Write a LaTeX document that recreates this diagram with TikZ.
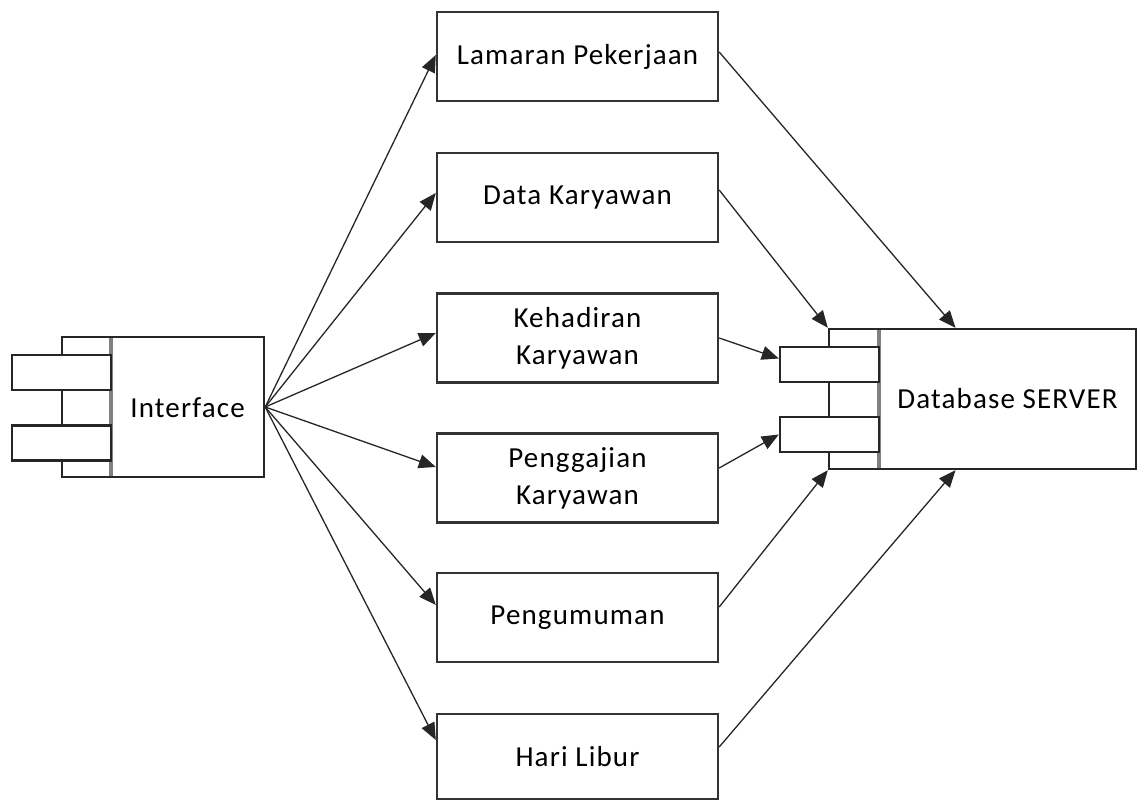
\documentclass[tikz,border=0pt]{standalone}
\usepackage{fontspec}
\setmainfont{Carlito}[LetterSpace=4]
\usetikzlibrary{arrows.meta}
\begin{document}
\begin{tikzpicture}[x=1pt,y=-1pt,
  txt/.style={font=\fontsize{29}{37}\selectfont, align=center, inner sep=0pt},
  box/.style={txt, draw=black!80, line width=2.4pt, fill=white,
    minimum width=281pt, minimum height=89pt},
  body/.style={draw=black!85, line width=2.4pt, fill=white, inner sep=0pt,
    minimum width=#1, minimum height=140pt},
  port/.style={draw=black!85, line width=2.4pt, fill=white, inner sep=0pt,
    minimum width=99pt, minimum height=35pt},
  divider/.style={draw=black!50, line width=3.5pt},
  conn/.style={draw=black!85, line width=1.3pt,
    -{Triangle[length=17pt,width=14pt]}}
]
\useasboundingbox (0,0) rectangle (1138,800);

% Interface component
\node[body=202pt] (iface) at (163,407) {};
\draw[divider] (111,338) -- (111,476);
\node[port] (ifp1) at (61.5,372.5) {};
\node[port] (ifp2) at (61.5,443) {};
\node[txt] (iftext) at (187.5,408) {Interface};

% Database SERVER component
\node[body=307pt] (db) at (982.5,399) {};
\draw[divider] (879,330) -- (879,468);
\node[port] (dbp1) at (829.5,364.5) {};
\node[port] (dbp2) at (829.5,434.5) {};
\node[txt] (dbtext) at (1007.5,399) {Database SERVER};

% Modules
\node[box] (lam) at (577.5,56.5) {Lamaran Pekerjaan};
\node[box] (data) at (577.5,197.5) {Data Karyawan};
\node[box] (keh) at (577.5,338) {Kehadiran\\Karyawan};
\node[box] (peng) at (577.5,478) {Penggajian\\Karyawan};
\node[box] (umum) at (577.5,617.5) {Pengumuman};
\node[box, minimum height=85pt] (libur) at (577.5,756.5) {Hari Libur};

% Interface to modules
\draw[conn] (iface.east) -- ([yshift=1.5pt]lam.west);
\draw[conn] (iface.east) -- ([yshift=4.5pt]data.west);
\draw[conn] (iface.east) -- ([yshift=5pt]keh.west);
\draw[conn] (iface.east) -- ([yshift=11pt]peng.west);
\draw[conn] (iface.east) -- ([yshift=12.5pt]umum.west);
\draw[conn] (iface.east) -- ([yshift=16.5pt]libur.west);

% Modules to database
\draw[conn] ([yshift=4.5pt]lam.east) -- ([xshift=-27pt]db.north);
\draw[conn] ([yshift=7.5pt]data.east) -- (db.north west);
\draw[conn] (keh.east) -- ([yshift=6pt]dbp1.west);
\draw[conn] ([yshift=10pt]peng.east) -- (dbp2.west);
\draw[conn] ([yshift=10.5pt]umum.east) -- (db.south west);
\draw[conn] ([yshift=9.5pt]libur.east) -- ([xshift=-27pt]db.south);
\end{tikzpicture}
\end{document}
